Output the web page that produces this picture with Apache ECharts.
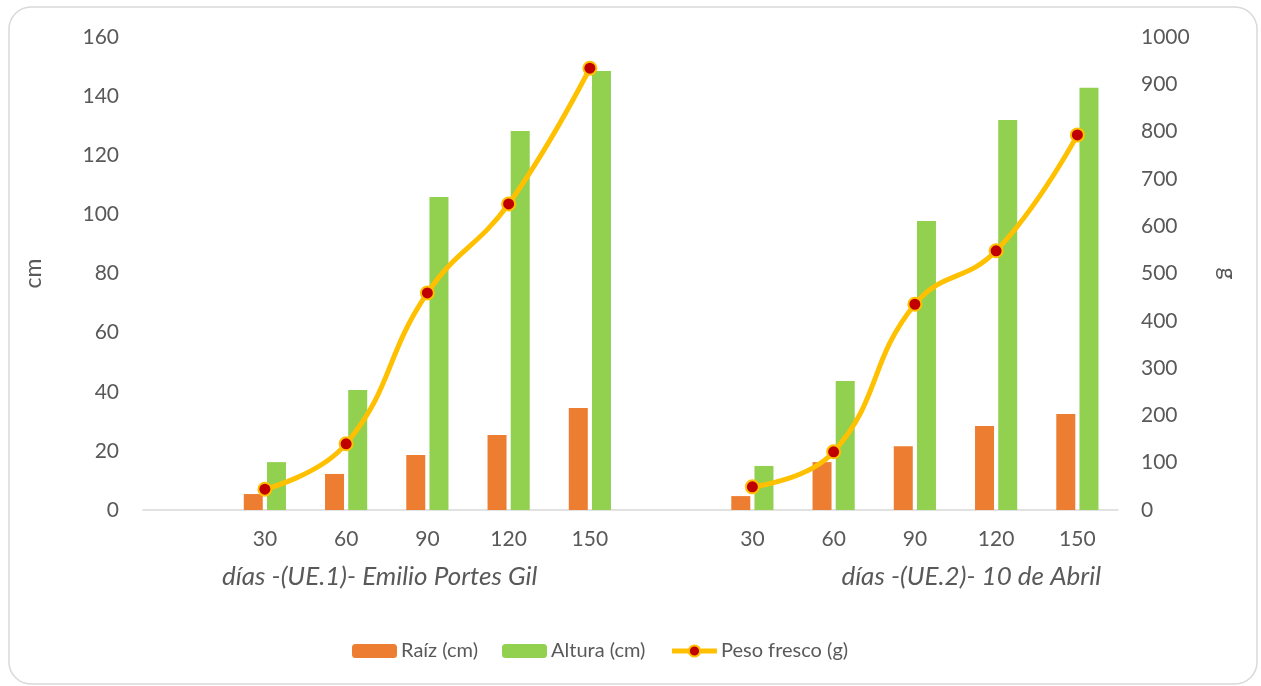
<!DOCTYPE html>
<html>
<head>
<meta charset="utf-8">
<script src="https://cdn.jsdelivr.net/npm/echarts@6/dist/echarts.min.js"></script>
<style>
  html, body { margin: 0; padding: 0; background: #fff; }
  #chart { width: 1261px; height: 686px; }
</style>
</head>
<body>
<div id="chart"></div>
<script>
// Two plots (UE.1 and UE.2), each with an empty leading slot
const categories = ['', '30', '60', '90', '120', '150', '', '30', '60', '90', '120', '150'];
const groupLabels = ['días -(UE.1)- Emilio Portes Gil', 'días -(UE.2)- 10 de Abril'];

const raiz   = [null, 5.4, 12.2, 18.6, 25.4, 34.5, null, 4.7, 16.2, 21.6, 28.4, 32.5];
const altura = [null, 16.2, 40.6, 105.9, 128.2, 148.5, null, 14.9, 43.6, 97.8, 131.9, 142.8];
const peso   = [null, 44, 140, 459, 647, 934, null, 49, 123, 435, 548, 793];

const textColor = '#595959';
const fontFamily = 'Lato, "Open Sans", sans-serif';
const plain = v => String(v);

const chart = echarts.init(document.getElementById('chart'));
chart.setOption({
  animation: false,
  textStyle: { fontFamily: fontFamily, color: textColor },
  grid: { left: 143, right: 143, top: 37, bottom: 176, containLabel: false },
  xAxis: {
    type: 'category',
    data: categories,
    axisLine: { lineStyle: { color: '#D9D9D9', width: 1.5 } },
    axisTick: { show: false },
    axisLabel: { color: textColor, fontSize: 21, margin: 19, interval: 0 }
  },
  yAxis: [
    {
      type: 'value', min: 0, max: 160, interval: 20,
      name: 'cm', nameLocation: 'middle', nameGap: 98, nameRotate: 90,
      nameTextStyle: { color: textColor, fontSize: 23 },
      axisLine: { show: false }, axisTick: { show: false },
      splitLine: { show: false },
      axisLabel: { color: textColor, fontSize: 21, margin: 24, formatter: plain }
    },
    {
      type: 'value', min: 0, max: 1000, interval: 100,
      name: 'g', nameLocation: 'middle', nameGap: 98, nameRotate: -90,
      nameTextStyle: { color: textColor, fontSize: 23 },
      axisLine: { show: false }, axisTick: { show: false },
      splitLine: { show: false },
      axisLabel: { color: textColor, fontSize: 21, margin: 23, formatter: plain }
    }
  ],
  legend: {
    bottom: 20,
    left: 347,
    itemWidth: 45,
    itemHeight: 14,
    itemGap: 24,
    textStyle: { color: textColor, fontSize: 20, fontFamily: fontFamily, padding: [0, 0, 0, -1] },
    data: [
      'Raíz (cm)',
      'Altura (cm)',
      { name: 'Peso fresco (g)', lineStyle: { width: 5 } }
    ]
  },
  series: [
    {
      name: 'Raíz (cm)', type: 'bar', data: raiz,
      barWidth: 19, barGap: '22%',
      itemStyle: { color: '#ED7D31' }
    },
    {
      name: 'Altura (cm)', type: 'bar', data: altura,
      barWidth: 19,
      itemStyle: { color: '#92D050' }
    },
    {
      name: 'Peso fresco (g)', type: 'line', yAxisIndex: 1, data: peso,
      smooth: 0.45, connectNulls: false,
      symbol: 'circle', symbolSize: 13,
      lineStyle: { color: '#FFC000', width: 5 },
      itemStyle: { color: '#C00000', borderColor: '#FFC000', borderWidth: 2 },
      z: 5
    }
  ],
  graphic: [
    {
      type: 'rect', silent: true, z: -1,
      shape: { x: 9, y: 7, width: 1248, height: 677, r: 22 },
      style: { fill: '#fff', stroke: '#D9D9D9', lineWidth: 1.5 }
    },
    {
      type: 'text', left: 222, top: 564,
      style: { text: groupLabels[0], fill: textColor, font: 'italic 26px ' + fontFamily }
    },
    {
      type: 'text', right: 160, top: 564,
      style: { text: groupLabels[1], fill: textColor, font: 'italic 26px ' + fontFamily }
    }
  ]
});
</script>
</body>
</html>
